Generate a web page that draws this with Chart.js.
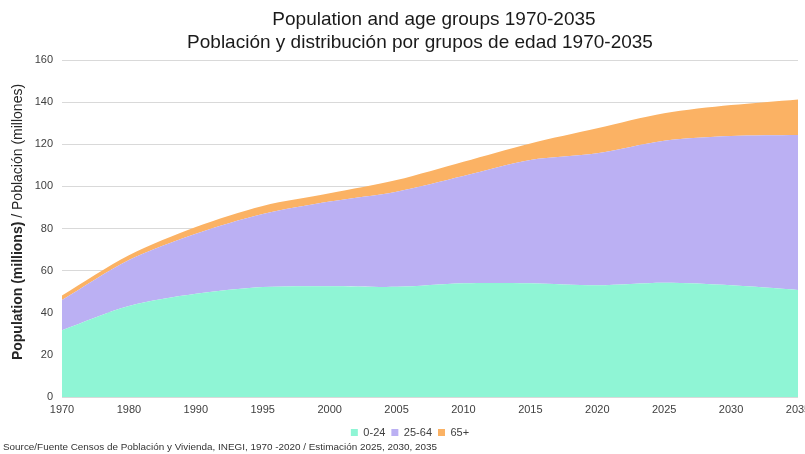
<!DOCTYPE html>
<html><head><meta charset="utf-8">
<script src="https://cdn.jsdelivr.net/npm/chart.js@4"></script>
<style>html,body{margin:0;padding:0;overflow:hidden;background:#fff}
#wrap{width:820px;height:454px;position:relative}</style>
</head><body><div id="wrap"><canvas id="c" width="820" height="454"></canvas></div>
<script>
const years = ['1970','1980','1990','1995','2000','2005','2010','2015','2020','2025','2030','2035'];
const age0to24 = [31.7, 43.2, 49.0, 52.2, 52.6, 52.3, 54.0, 54.0, 53.0, 54.2, 53.0, 50.8];
const age25to64 = [14.3, 21.8, 28.5, 34.7, 40.2, 45.2, 50.9, 58.5, 62.7, 67.5, 70.9, 73.6];
const age65plus = [2.2, 2.3, 3.2, 3.8, 3.9, 5.5, 6.8, 7.9, 11.9, 13.0, 14.7, 16.9];
const seriesNames = ['0-24', '25-64', '65+'];
const titleLines = ['Population and age groups 1970-2035', 'Población y distribución por grupos de edad 1970-2035'];
const yTitleBold = 'Population (millions)';
const yTitleNormal = ' / Población (millones)';
const sourceText = 'Source/Fuente Censos de Población y Vivienda, INEGI, 1970 -2020 / Estimación 2025, 2030, 2035';

const FONT = '"Liberation Sans", Arial, sans-serif';
const colors = ['#8ff5d5', '#bbb0f3', '#fbb264'];

const textPlugin = {
  id: 'texts',
  afterDraw(chart) {
    const ctx = chart.ctx;
    ctx.save();
    ctx.fillStyle = '#1a1a1a';
    ctx.textBaseline = 'middle';
    ctx.textAlign = 'center';
    ctx.font = '19px ' + FONT;
    ctx.fillText(titleLines[0], 434, 20);
    ctx.fillText(titleLines[1], 420, 43);

    // y axis title
    ctx.save();
    ctx.translate(18, 222);
    ctx.rotate(-Math.PI / 2);
    ctx.textAlign = 'left';
    ctx.fillStyle = '#262626';
    ctx.font = 'bold 14px ' + FONT;
    const wB = ctx.measureText(yTitleBold).width;
    ctx.font = '14px ' + FONT;
    const wN = ctx.measureText(yTitleNormal).width;
    const start = -(wB + wN) / 2;
    ctx.font = 'bold 14px ' + FONT;
    ctx.fillText(yTitleBold, start, 0);
    ctx.font = '14px ' + FONT;
    ctx.fillText(yTitleNormal, start + wB, 0);
    ctx.restore();

    // source
    ctx.textAlign = 'left';
    ctx.fillStyle = '#333';
    ctx.font = '9px ' + FONT;
    const w = ctx.measureText(sourceText).width;
    ctx.save();
    ctx.translate(3, 448);
    ctx.scale(434 / w, 1);
    ctx.fillText(sourceText, 0, 0);
    ctx.restore();
    ctx.restore();
  }
};

const mk = (i, data, fill) => ({
  label: seriesNames[i], data, fill,
  backgroundColor: colors[i], borderColor: colors[i], borderWidth: 0,
  pointRadius: 0, tension: 0.3
});

new Chart(document.getElementById('c'), {
  type: 'line',
  data: {
    labels: years,
    datasets: [mk(0, age0to24, 'origin'), mk(1, age25to64, '-1'), mk(2, age65plus, '-1')]
  },
  options: {
    responsive: false,
    animation: false,
    devicePixelRatio: 1,
    layout: { padding: { left: 22, right: 22, top: 60, bottom: 6 } },
    plugins: {
      legend: {
        position: 'bottom',
        labels: { boxWidth: 7, boxHeight: 7, padding: 6, color: '#404040', font: { size: 11, family: FONT } }
      },
      tooltip: { enabled: false }
    },
    scales: {
      x: {
        type: 'category', offset: false,
        grid: { display: false, drawTicks: false }, border: { display: false },
        ticks: { maxRotation: 0, autoSkip: false, padding: 6, color: '#404040', font: { size: 11, family: FONT } },
        afterFit(s) { s.height = 24; }
      },
      y: {
        stacked: true, min: 0, max: 160,
        grid: { color: '#d9d9d9', drawTicks: false }, border: { display: false },
        ticks: { stepSize: 20, padding: 9, color: '#404040', font: { size: 11, family: FONT } },
        afterFit(s) { s.width = 40; }
      }
    }
  },
  plugins: [textPlugin]
});
</script></body></html>
